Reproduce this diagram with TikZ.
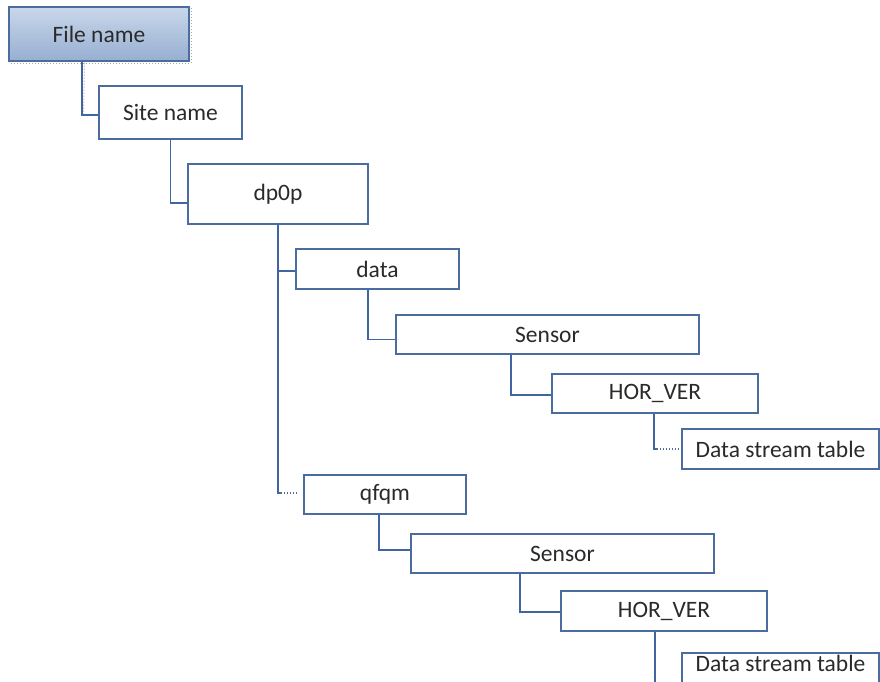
\documentclass[tikz,border=0pt]{standalone}
\usepackage{fontspec}
\setmainfont{Carlito}
\usetikzlibrary{calc}
\definecolor{edgeblue}{HTML}{4A6C9E}
\definecolor{linkblue}{HTML}{3F66A0}
\definecolor{topfill}{HTML}{C9D7EA}
\definecolor{botfill}{HTML}{97AFD1}
\definecolor{txt}{HTML}{2A2A2A}
\tikzset{
  box/.style={draw=edgeblue, line width=1.1pt, fill=white, rectangle, inner sep=0pt,
    text=txt, font=\fontsize{23.5}{28}\selectfont},
  rootbox/.style={box, top color=topfill, bottom color=botfill},
  conn/.style={draw=linkblue, line width=1.1pt},
  dotconn/.style={draw=linkblue!70!gray, line width=1.1pt, dotted},
  shadowline/.style={draw=gray!70, line width=1pt, dotted}
}
\begin{document}
\begin{tikzpicture}[x=1pt,y=-1pt]
\useasboundingbox (0,0) rectangle (880,681);
% nodes
\node[rootbox, minimum width=180pt, minimum height=54pt] (fname) at (99,34) {File name};
\node[box, minimum width=143pt, minimum height=53pt] (site) at (170.5,112.5) {Site name};
\node[box, minimum width=180pt, minimum height=60pt] (dp0p) at (278,194) {dp0p};
\node[box, minimum width=163pt, minimum height=40pt] (data) at (377.5,269) {data};
\node[box, minimum width=303pt, minimum height=39pt] (sensorA) at (547.5,334.5) {Sensor};
\node[box, minimum width=206pt, minimum height=39pt] (hvA) at (655,393.5) {HOR\_VER};
\node[box, minimum width=197pt, minimum height=40pt] (dstA) at (780.5,449) {Data stream table};
\node[box, minimum width=162pt, minimum height=39pt] (qfqm) at (385,494.5) {qfqm};
\node[box, minimum width=303pt, minimum height=39pt] (sensorB) at (562.5,553.5) {Sensor};
\node[box, minimum width=206pt, minimum height=40pt] (hvB) at (664,611) {HOR\_VER};
\node[box, minimum width=197pt, minimum height=40pt, text height=10pt, text depth=13pt] (dstB) at (780.5,673) {Data stream table};
% shadow of root box
\draw[shadowline] ([xshift=1.5pt,yshift=-1.5pt]fname.north east) -- ([xshift=1.5pt,yshift=-1.5pt]fname.south east) -- ([xshift=1.5pt,yshift=-1.5pt]fname.south west);
% connectors
\draw[shadowline] ([xshift=-105pt,yshift=-1pt]fname.south east) -- ([xshift=-15pt,yshift=-3.5pt]site.west);
\draw[conn] ([xshift=-17pt]fname.south) |- ([yshift=-2.5pt]site.west);
\draw[conn] (site.south) |- ([yshift=-9pt]dp0p.west);
\draw[conn] (dp0p.south) |- ([yshift=-2pt]data.west);
\draw[conn] (dp0p.south) |- ([xshift=-23pt,yshift=1.5pt]qfqm.west);
\draw[dotconn] ([xshift=-23pt,yshift=1.5pt]qfqm.west) -- ([xshift=-7pt,yshift=1.5pt]qfqm.west);
\draw[conn] ([xshift=-9.5pt]data.south) |- ([yshift=-5pt]sensorA.west);
\draw[conn] ([xshift=-36.5pt]sensorA.south) |- ([yshift=-1.5pt]hvA.west);
\draw[conn] ([xshift=-1pt]hvA.south) |- ([xshift=-25pt]dstA.west);
\draw[dotconn] ([xshift=-25pt]dstA.west) -- ([xshift=-2pt]dstA.west);
\draw[conn] ([xshift=-6pt]qfqm.south) |- ([yshift=3.5pt]sensorB.west);
\draw[conn] ([xshift=-42.5pt]sensorB.south) |- ([yshift=-1pt]hvB.west);
\draw[conn] ([xshift=-9pt]hvB.south) |- ([yshift=-11pt]dstB.west);
\end{tikzpicture}
\end{document}
